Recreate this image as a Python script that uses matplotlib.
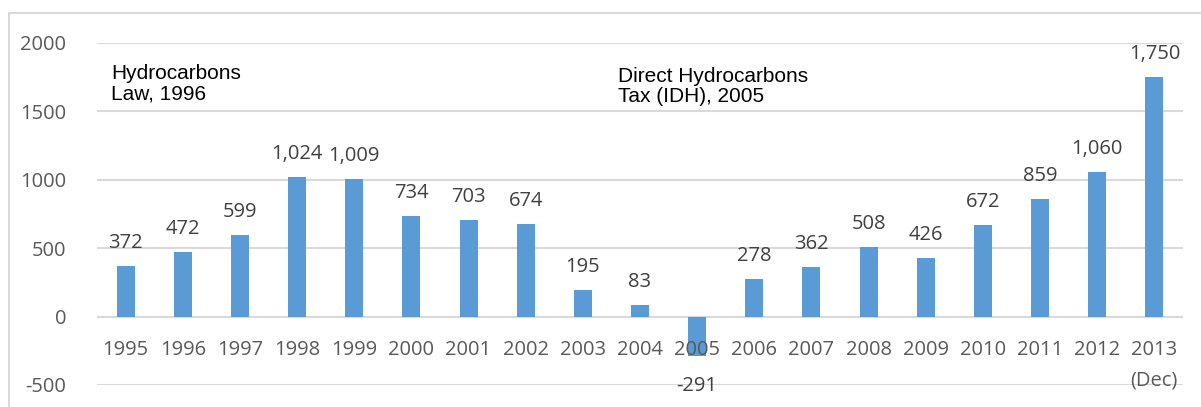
import matplotlib
matplotlib.use("Agg")
import matplotlib.pyplot as plt
from matplotlib.patches import Rectangle

years = ["1995", "1996", "1997", "1998", "1999", "2000", "2001", "2002", "2003", "2004",
         "2005", "2006", "2007", "2008", "2009", "2010", "2011", "2012", "2013"]
year_notes = ["", "", "", "", "", "", "", "", "", "", "", "", "", "", "", "", "", "", "(Dec)"]
values = [372, 472, 599, 1024, 1009, 734, 703, 674, 195, 83,
          -291, 278, 362, 508, 426, 672, 859, 1060, 1750]
value_labels = ["372", "472", "599", "1,024", "1,009", "734", "703", "674", "195", "83",
                "-291", "278", "362", "508", "426", "672", "859", "1,060", "1,750"]
y_ticks = [-500, 0, 500, 1000, 1500, 2000]
note_texts = ["Hydrocarbons\nLaw, 1996", "Direct Hydrocarbons\nTax (IDH), 2005"]

W, H = 1201, 407
fig = plt.figure(figsize=(W / 100, H / 100), dpi=100)
fig.patch.set_facecolor("white")

# outer chart border
fig.add_artist(Rectangle((9 / W, -0.1), 1.2, (H - 13) / H + 0.1, transform=fig.transFigure,
                         fill=False, edgecolor="#d9d9d9", linewidth=1.5))

ax = fig.add_axes([97 / W, (H - 385) / H, (1183 - 97) / W, (385 - 43) / H])
x = list(range(len(values)))
ax.bar(x, values, width=0.315, color="#5b9bd5", zorder=3)
ax.set_xlim(-0.5, len(values) - 0.5)
ax.set_ylim(-500, 2000)
for s in ax.spines.values():
    s.set_visible(False)
ax.set_yticks(y_ticks)
ax.set_yticklabels([str(t) for t in y_ticks], fontfamily="Open Sans", fontsize=14.5, color="#595959")
ax.tick_params(axis="y", length=0, pad=22)
ax.set_xticks([])
ax.grid(axis="y", color="#d9d9d9", linewidth=1.5, zorder=0)
ax.set_axisbelow(True)

for xi, lab, sub in zip(x, years, year_notes):
    ax.annotate(lab, xy=(xi, 0), xytext=(0, -38), textcoords="offset pixels",
                ha="center", va="baseline", fontfamily="Open Sans", fontsize=14.5,
                color="#595959", annotation_clip=False)
    if sub:
        ax.annotate(sub, xy=(xi, 0), xytext=(0, -69), textcoords="offset pixels",
                    ha="center", va="baseline", fontfamily="Open Sans", fontsize=14.5,
                    color="#595959", annotation_clip=False)

for xi, v, lab in zip(x, values, value_labels):
    off = 18 if v >= 0 else -35
    ax.annotate(lab, xy=(xi, v), xytext=(0, off), textcoords="offset pixels",
                ha="center", va="baseline", fontfamily="Open Sans", fontsize=14.5,
                color="#404040", annotation_clip=False)

# annotation notes: positions given by first-line baseline in pixels
for (px, py), txt in zip([(111, 79), (618, 82)], note_texts):
    fig.text(px / W, 1 - py / H, txt.split("\n")[0], ha="left", va="baseline",
             fontfamily="Liberation Sans", fontsize=15, color="black")
    fig.text(px / W, 1 - (py + 20.5) / H, txt.split("\n")[1], ha="left", va="baseline",
             fontfamily="Liberation Sans", fontsize=15, color="black")

fig.savefig("out.png", dpi=100)
